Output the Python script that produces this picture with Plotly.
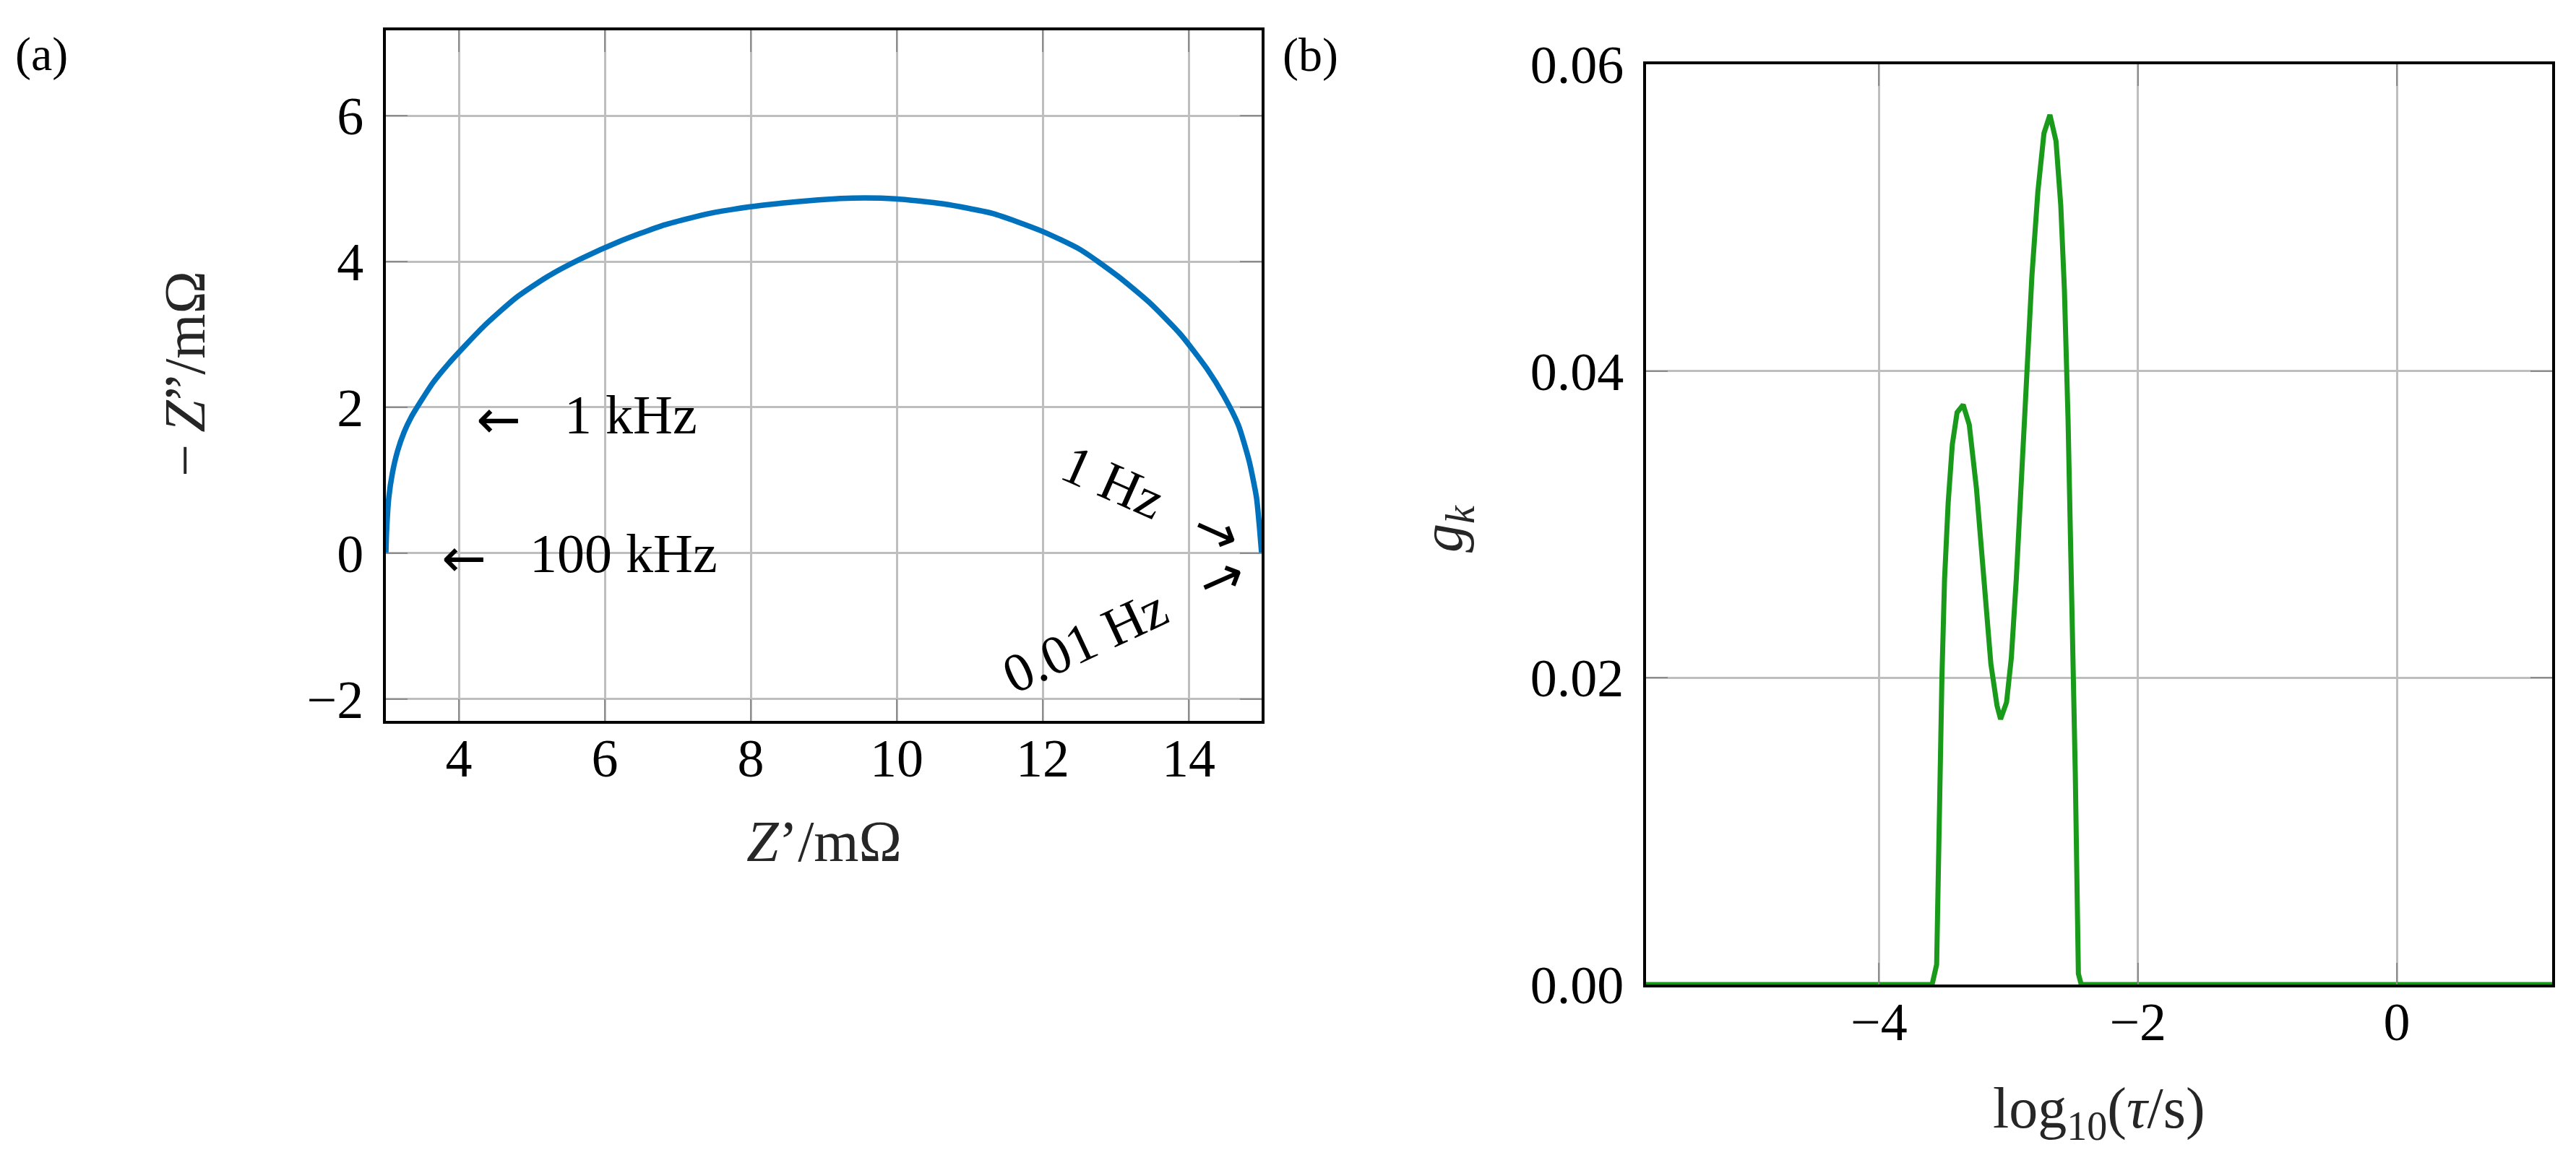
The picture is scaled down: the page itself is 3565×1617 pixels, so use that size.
import plotly.graph_objects as go

# (a) Nyquist-Kurve
z_re = [3.00, 3.01, 3.04, 3.09, 3.16, 3.25, 3.35, 3.49, 3.64, 3.86, 4.08, 4.35, 4.78,
        5.21, 5.68, 6.19, 6.78, 7.44, 7.99, 8.53, 9.00, 9.39, 9.98, 10.64, 11.31,
        11.98, 12.52, 13.03, 13.46, 13.89, 14.25, 14.48, 14.68, 14.83, 14.93,
        14.97, 15.00]
z_im = [0.00, 0.30, 0.76, 1.10, 1.40, 1.66, 1.87, 2.10, 2.33, 2.60, 2.84, 3.12, 3.50,
        3.79, 4.04, 4.27, 4.49, 4.66, 4.75, 4.81, 4.85, 4.87, 4.86, 4.79, 4.66,
        4.42, 4.16, 3.80, 3.44, 3.00, 2.53, 2.16, 1.76, 1.26, 0.76,
        0.36, 0.00]

# (b) DRT g_k ueber log10(tau)
log_tau = [-5.80, -3.59, -3.555, -3.531, -3.514, -3.494, -3.466, -3.434, -3.397,
           -3.350, -3.303, -3.247, -3.192, -3.136, -3.089, -3.061, -3.015, -2.978,
           -2.940, -2.903, -2.866, -2.819, -2.773, -2.726, -2.680, -2.633, -2.596,
           -2.568, -2.540, -2.512, -2.484, -2.460, -2.438, 1.20]
g_k = [0.0, 0.0, 0.0013, 0.0138, 0.0201, 0.0264, 0.0314, 0.0352, 0.0373,
       0.0378, 0.0365, 0.0323, 0.0264, 0.0209, 0.0182, 0.0173, 0.0184, 0.0213,
       0.0264, 0.0327, 0.0390, 0.0462, 0.0517, 0.0555, 0.0567, 0.0550, 0.0508,
       0.0453, 0.0369, 0.0264, 0.0138, 0.0007, 0.0, 0.0]

x_ticks_a = [4, 6, 8, 10, 12, 14]
y_ticks_a = [-2, 0, 2, 4, 6]
x_ticks_b = [-4, -2, 0]
y_ticks_b = [0, 0.02, 0.04, 0.06]

FONT = "Liberation Serif"
ARROW_FONT = "DejaVu Sans"
TITLE_COLOR = "#262626"
W, H = 3565, 1617

fig = go.Figure()
fig.add_trace(go.Scatter(x=z_re, y=z_im, mode="lines",
                         line=dict(color="#0072BD", width=7.5, shape="spline", smoothing=0.6),
                         xaxis="x", yaxis="y", showlegend=False))
fig.add_trace(go.Scatter(x=log_tau, y=g_k, mode="lines",
                         line=dict(color="#1A9A1A", width=7),
                         xaxis="x2", yaxis="y2", showlegend=False))

axis_style = dict(
    showline=True, linecolor="black", linewidth=4, mirror="ticks",
    showgrid=True, gridcolor="#BEBEBE", gridwidth=3,
    ticks="inside", ticklen=30, tickwidth=2, tickcolor="#8C8C8C",
    tickfont=dict(family=FONT, size=74, color="black"),
    zeroline=False, automargin=False,
)


def px_x(p):
    return p / W


def px_y(p):
    return 1 - p / H


fig.update_layout(
    width=W, height=H,
    margin=dict(l=0, r=0, t=0, b=0),
    paper_bgcolor="white", plot_bgcolor="white",
    font=dict(family=FONT, color="black"),
    xaxis=dict(domain=[px_x(534), px_x(1746)], range=[3, 15],
               tickvals=x_ticks_a, anchor="y", ticklabelstandoff=-16, **axis_style),
    yaxis=dict(domain=[px_y(998), px_y(42)], range=[-2.3, 7.17],
               tickvals=y_ticks_a, anchor="x", ticklabelstandoff=12, **axis_style),
    xaxis2=dict(domain=[px_x(2278), px_x(3532)], range=[-5.8, 1.2],
                tickvals=x_ticks_b, anchor="y2", ticklabelstandoff=-16, **axis_style),
    yaxis2=dict(domain=[px_y(1363), px_y(89)], range=[0, 0.06],
                tickvals=y_ticks_b, tickformat=".2f", anchor="x2",
                ticklabelstandoff=12, **axis_style),
)

ann_font = dict(family=FONT, size=76, color="black")
arrow_font = dict(family=ARROW_FONT, size=74, color="black")

# Frequenzmarken im Nyquist-Plot
fig.add_annotation(x=4.54, y=1.84, xref="x", yref="y", text="\u2190",
                   showarrow=False, xanchor="center", yanchor="middle", font=arrow_font)
fig.add_annotation(x=5.43, y=1.90, xref="x", yref="y", text="1 kHz",
                   showarrow=False, xanchor="left", yanchor="middle", font=ann_font)
fig.add_annotation(x=4.07, y=-0.06, xref="x", yref="y", text="\u2190",
                   showarrow=False, xanchor="center", yanchor="middle", font=arrow_font)
fig.add_annotation(x=4.95, y=0.0, xref="x", yref="y", text="100 kHz",
                   showarrow=False, xanchor="left", yanchor="middle", font=ann_font)
fig.add_annotation(x=12.97, y=0.98, xref="x", yref="y", text="1 Hz", textangle=24,
                   showarrow=False, xanchor="center", yanchor="middle", font=ann_font)
fig.add_annotation(x=14.39, y=0.31, xref="x", yref="y", text="\u2192", textangle=24,
                   showarrow=False, xanchor="center", yanchor="middle", font=arrow_font)
fig.add_annotation(x=12.58, y=-1.20, xref="x", yref="y", text="0.01 Hz", textangle=-25,
                   showarrow=False, xanchor="center", yanchor="middle", font=ann_font)
fig.add_annotation(x=14.45, y=-0.34, xref="x", yref="y", text="\u2192", textangle=-24,
                   showarrow=False, xanchor="center", yanchor="middle", font=arrow_font)

# Achsentitel und Panel-Labels
title_font = dict(family=FONT, size=80, color=TITLE_COLOR)
fig.add_annotation(x=px_x(1140), y=px_y(1165), xref="paper", yref="paper",
                   text="<i>Z</i>\u2019/m\u03a9", showarrow=False,
                   xanchor="center", yanchor="middle", font=title_font)
fig.add_annotation(x=px_x(256), y=px_y(518), xref="paper", yref="paper",
                   text="\u2212\u2009<i>Z</i>\u201d/m\u03a9", showarrow=False, textangle=-90,
                   xanchor="center", yanchor="middle", font=title_font)
fig.add_annotation(x=px_x(2905), y=px_y(1540), xref="paper", yref="paper",
                   text="log<sub>10</sub>(<i>\u03c4</i>/s)", showarrow=False,
                   xanchor="center", yanchor="middle", font=title_font)
fig.add_annotation(x=px_x(2002), y=px_y(732), xref="paper", yref="paper",
                   text="<i>g<sub>k</sub></i>", showarrow=False, textangle=-90,
                   xanchor="center", yanchor="middle", font=title_font)

label_font = dict(family=FONT, size=66, color="black")
fig.add_annotation(x=px_x(57), y=px_y(75), xref="paper", yref="paper", text="(a)",
                   showarrow=False, xanchor="center", yanchor="middle", font=label_font)
fig.add_annotation(x=px_x(1814), y=px_y(76), xref="paper", yref="paper", text="(b)",
                   showarrow=False, xanchor="center", yanchor="middle", font=label_font)

# Browser-Standardrand entfernen, damit die Pixelpositionen stimmen
fig.write_html("out.html",
               config={"displayModeBar": False},
               post_script="document.body.style.margin='0';"
                           "document.body.style.overflow='hidden';")
